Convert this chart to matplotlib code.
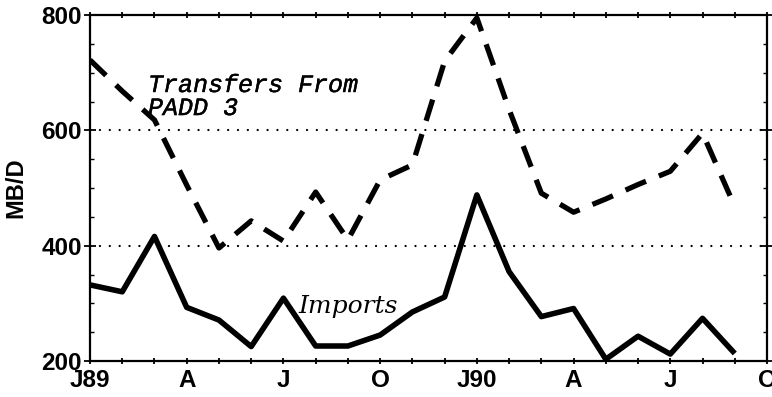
import matplotlib
matplotlib.use("Agg")
import matplotlib.pyplot as plt
import matplotlib.patheffects as pe
from matplotlib.font_manager import FontProperties
from matplotlib.ticker import MultipleLocator, FixedLocator

# Monthly series, Jan 1989 through Sep 1990 (MB/D)
months = list(range(21))
imports = [332, 320, 416, 293, 271, 225, 309, 226, 226, 245,
           285, 311, 488, 355, 277, 291, 203, 243, 212, 274, 213]
transfers = [722, 668, 618, 505, 396, 443, 408, 493, 410, 514,
             540, 720, 795, 636, 491, 458, 481, 506, 529, 595, 468]

tick_pos = [0, 3, 6, 9, 12, 15, 18, 21]
tick_labels = ["J89", "A", "J", "O", "J90", "A", "J", "O"]
y_ticks = [200, 400, 600, 800]

plt.rcParams["lines.scale_dashes"] = False

fig = plt.figure(figsize=(7.72, 3.97), dpi=100)
ax = fig.add_axes([90 / 772, 1 - 361 / 397, 677 / 772, 346 / 397])

# dotted reference lines
for yv in (400, 600):
    ax.axhline(yv, color="black", lw=1.6, linestyle=(0, (0.1, 7)),
               dash_capstyle="round", zorder=1)

ax.plot(months, imports, color="black", lw=4.0, solid_joinstyle="round",
        solid_capstyle="butt", zorder=3)
ax.plot(months, transfers, color="black", lw=3.8, linestyle=(0, (16, 10)),
        dash_capstyle="butt", dash_joinstyle="round", zorder=3)

ax.set_xlim(0, 21)
ax.set_ylim(200, 800)

ax.xaxis.set_major_locator(FixedLocator(tick_pos))
ax.xaxis.set_minor_locator(MultipleLocator(1))
ax.set_xticks(tick_pos)
ax.set_xticklabels(tick_labels)
ax.set_yticks(y_ticks)
ax.yaxis.set_minor_locator(MultipleLocator(50))

tick_font = FontProperties(family="Liberation Sans", weight="bold", size=17.5)
for lab in ax.get_xticklabels() + ax.get_yticklabels():
    lab.set_fontproperties(tick_font)

ax.tick_params(axis="x", which="both", direction="inout", length=5, width=1.3,
               pad=3, top=True)
ax.tick_params(axis="y", which="major", direction="inout", length=8, width=1.3,
               pad=2, right=True)
ax.tick_params(axis="y", which="minor", direction="in", length=3, width=1.0,
               right=True)

for sp in ax.spines.values():
    sp.set_linewidth(1.6)

ax.set_ylabel("MB/D", fontfamily="Liberation Sans", fontweight="bold",
              fontsize=17, labelpad=10)

ax.annotate("Transfers From\nPADD 3", xy=(148 / 772, 1 - 73 / 397),
            xycoords="figure fraction", ha="left", va="top",
            fontfamily="Liberation Mono", fontstyle="italic", fontsize=18,
            linespacing=0.95,
            path_effects=[pe.withStroke(linewidth=0.3, foreground="black")])
ax.annotate("Imports", xy=(298 / 772, 1 - 313 / 397),
            xycoords="figure fraction", ha="left", va="baseline",
            fontfamily="DejaVu Serif", fontstyle="italic", fontsize=18)

fig.savefig("out.png", dpi=100)
